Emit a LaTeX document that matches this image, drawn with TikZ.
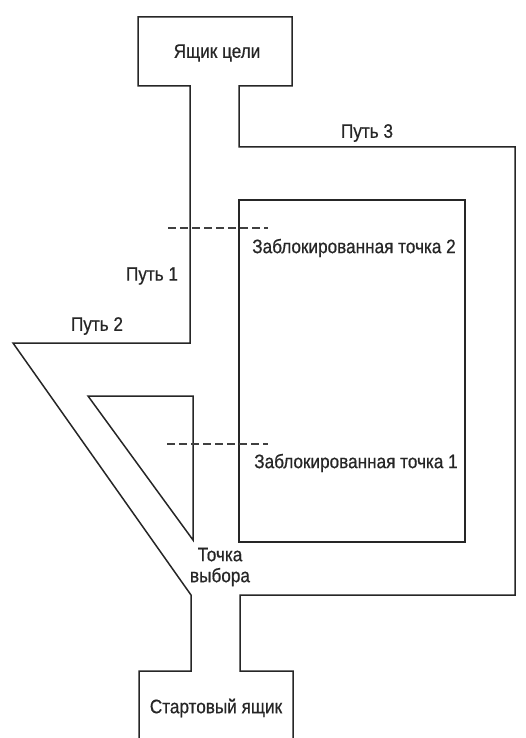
\documentclass[tikz,border=0pt]{standalone}
\usepackage{fontspec}
\setmainfont{Liberation Sans}
\newfontfamily\labfont[FakeStretch=0.88,FakeBold=0.6]{Liberation Sans}
\begin{document}
\begin{tikzpicture}[x=1pt,y=-1pt,
  wall/.style={draw=black!85,line width=1.5pt,line join=miter},
  block/.style={draw=black!75,line width=1.1pt,dash pattern=on 8pt off 4pt},
  lab/.style={font=\labfont\fontsize{19.5}{21}\selectfont,text=black!85,inner sep=0pt,align=center}]
\useasboundingbox (0,0) rectangle (526,738);
% main outline
\draw[wall] (139,738) -- (139,671) -- (191,671) -- (191,595) -- (13,343) -- (190,343)
  -- (190,86) -- (138,86) -- (138,17) -- (292,17) -- (292,86) -- (239,86) -- (239,147)
  -- (515,147) -- (515,595) -- (240,595) -- (240,671) -- (293,671) -- (293,738);
% blocked inner rectangle
\draw[wall] (239,200) rectangle (465,542);
% inner triangle
\draw[wall] (88,396) -- (193,396) -- (193,540) -- cycle;
% blocked points
\coordinate (b2a) at (168,228); \coordinate (b2b) at (268,228);
\coordinate (b1a) at (167,444); \coordinate (b1b) at (268,444);
\draw[block] (b2a) -- (b2b);
\draw[block] (b1a) -- (b1b);
% labels
\node[lab] (goal) at (217,53) {Ящик цели};
\node[lab] (p3) at (367,133) {Путь 3};
\node[lab] (p1) at (152,276) {Путь 1};
\node[lab] (p2) at (97,326) {Путь 2};
\node[lab] (bl2) at (354,248) {Заблокированная точка 2};
\node[lab] (bl1) at (356,463) {Заблокированная точка 1};
\node[lab] (choice) at (220,567) {Точка\\выбора};
\node[lab] (start) at (216,708) {Стартовый ящик};
\end{tikzpicture}
\end{document}
